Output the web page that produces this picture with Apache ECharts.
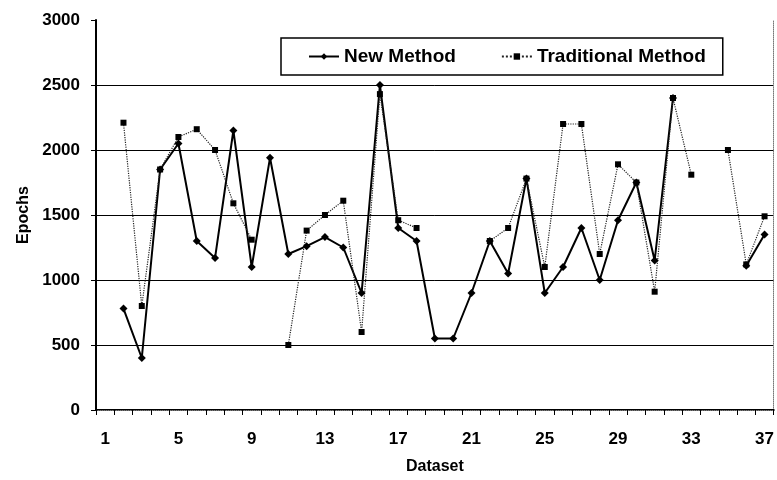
<!DOCTYPE html>
<html>
<head>
<meta charset="utf-8">
<script src="https://cdn.jsdelivr.net/npm/echarts@6/dist/echarts.min.js"></script>
<style>
html,body{margin:0;padding:0;background:#fff;}
#chart{width:777px;height:480px;}
</style>
</head>
<body>
<div id="chart"></div>
<script>
const categories = ['1','2','3','4','5','6','7','8','9','10','11','12','13','14','15','16','17','18','19','20','21','22','23','24','25','26','27','28','29','30','31','32','33','34','35','36','37'];
const newMethod = [null,780,400,1850,2050,1300,1170,2150,1100,1940,1200,1260,1330,1250,900,2500,1400,1300,550,550,900,1300,1050,1780,900,1100,1400,1000,1460,1750,1150,2400,null,null,null,1110,1350];
const traditionalMethod = [null,2210,800,1850,2100,2160,2000,1590,1310,null,500,1380,1500,1610,600,2430,1460,1400,null,null,null,1300,1400,1780,1100,2200,2200,1200,1890,1750,910,2400,1810,null,2000,1120,1490];
const yTicks = [0,500,1000,1500,2000,2500,3000];

const FONT = '"Liberation Sans", Arial, sans-serif';
const chart = echarts.init(document.getElementById('chart'), null, {renderer:'canvas'});
chart.setOption({
  backgroundColor:'#fff',
  animation:false,
  grid:{left:96,right:2,top:20,bottom:70,show:false},
  legend:{
    left:281, top:38,
    padding:[9,17,9,27],
    itemGap:45,
    itemWidth:30, itemHeight:8,
    borderColor:'#000', borderWidth:1.5,
    textStyle:{fontFamily:FONT,fontWeight:'bold',fontSize:19,color:'#000'},
    data:['New Method','Traditional Method']
  },
  xAxis:[{
    type:'category', data:categories, boundaryGap:true,
    name:'Dataset', nameLocation:'middle', nameGap:49,
    nameTextStyle:{fontFamily:FONT,fontWeight:'bold',fontSize:16,color:'#000'},
    axisLine:{lineStyle:{color:'#000',width:2}},
    axisTick:{show:true,interval:0,length:5,lineStyle:{color:'#000',width:1}},
    axisLabel:{interval:3,margin:21,fontFamily:FONT,fontWeight:'bold',fontSize:17,color:'#000'},
    splitLine:{show:false}
  },{
    type:'category', data:categories, position:'top', boundaryGap:true,
    axisLine:{show:true,lineStyle:{color:'#777',width:1,type:'dotted'}},
    axisTick:{show:false}, axisLabel:{show:false}
  }],
  yAxis:[{
    type:'value', min:0, max:3000, interval:500,
    name:'Epochs', nameLocation:'middle', nameGap:64,
    nameTextStyle:{fontFamily:FONT,fontWeight:'bold',fontSize:16,color:'#000'},
    axisLine:{show:true,lineStyle:{color:'#000',width:2}},
    axisTick:{show:true,length:5,lineStyle:{color:'#000',width:1}},
    axisLabel:{margin:16,fontFamily:FONT,fontWeight:'bold',fontSize:17,color:'#000',
      formatter:function(v){return yTicks.indexOf(v)>=0?String(v):'';}},
    splitLine:{show:true,lineStyle:{color:['#000','#000','#000','#000','#000','#000','transparent'],width:1}}
  },{
    type:'value', min:0, max:3000, interval:500, position:'right',
    axisLine:{show:true,lineStyle:{color:'#777',width:1,type:'dotted'}},
    axisTick:{show:false}, axisLabel:{show:false}, splitLine:{show:false}
  }],
  series:[{
    name:'New Method', type:'line', data:newMethod,
    symbol:'diamond', symbolSize:8,
    lineStyle:{color:'#000',width:2},
    itemStyle:{color:'#000'},
    connectNulls:false
  },{
    name:'Traditional Method', type:'line', data:traditionalMethod,
    symbol:'rect', symbolSize:6,
    lineStyle:{color:'#222',width:1.2,type:'dotted'},
    itemStyle:{color:'#000'},
    connectNulls:false
  }]
});
</script>
</body>
</html>
